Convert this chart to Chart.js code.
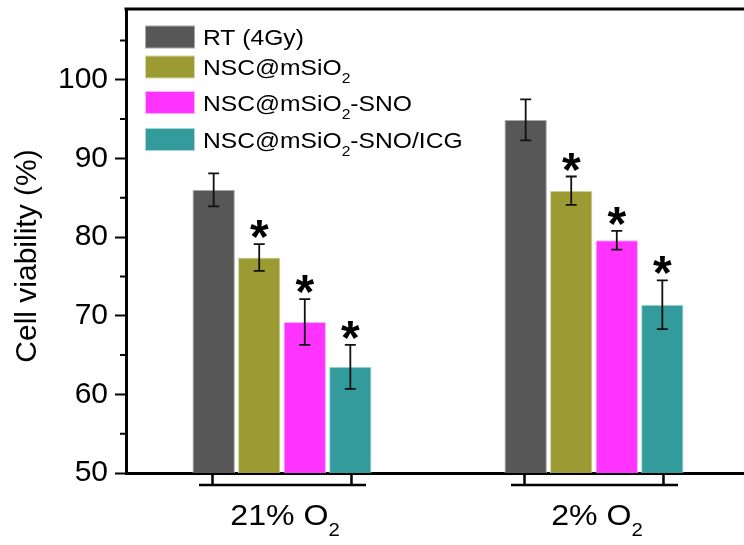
<!DOCTYPE html>
<html>
<head>
<meta charset="utf-8">
<script src="https://cdn.jsdelivr.net/npm/chart.js@4"></script>
<style>
  html, body { margin: 0; padding: 0; background: #fff; overflow: hidden; }
  #wrap { width: 744px; height: 545px; overflow: hidden; }
</style>
</head>
<body>
<div id="wrap"><canvas id="chart" width="752" height="545"></canvas></div>
<script>
// data
const categories = ['21% O₂', '2% O₂'];
const seriesLabels = ['RT (4Gy)', 'NSC@mSiO₂', 'NSC@mSiO₂-SNO', 'NSC@mSiO₂-SNO/ICG'];
const rtValues = [86.0, 94.9];
const rtErrors = [2.1, 2.6];
const nscValues = [77.4, 85.9];
const nscErrors = [1.7, 1.8];
const snoValues = [69.2, 79.6];
const snoErrors = [2.9, 1.2];
const icgValues = [63.5, 71.4];
const icgErrors = [2.8, 3.1];
// asterisk = significant vs RT
const rtStars = [false, false];
const nscStars = [true, true];
const snoStars = [true, true];
const icgStars = [true, true];
const yTicks = [50, 60, 70, 80, 90, 100];

const FONT = "'Liberation Sans', Arial, sans-serif";

// draws text where '₂' becomes a small lowered 2, with a slight horizontal stretch
function drawRich(ctx, text, x, y, size, align, stretch) {
    const parts = [];
    for (const ch of text) {
        const sub = ch === '₂';
        const c = sub ? '2' : ch;
        if (parts.length && parts[parts.length - 1].sub === sub) parts[parts.length - 1].t += c;
        else parts.push({ t: c, sub: sub });
    }
    const subSize = Math.round(size * 0.63);
    let w = 0;
    parts.forEach(p => {
        ctx.font = (p.sub ? subSize : size) + 'px ' + FONT;
        p.w = ctx.measureText(p.t).width;
        w += p.w;
    });
    ctx.save();
    ctx.translate(x, y);
    ctx.scale(stretch, 1);
    ctx.textAlign = 'left';
    ctx.textBaseline = 'alphabetic';
    ctx.fillStyle = '#000';
    let cx = align === 'center' ? -w / 2 : 0;
    parts.forEach(p => {
        ctx.font = (p.sub ? subSize : size) + 'px ' + FONT;
        ctx.fillText(p.t, cx, p.sub ? size * 0.37 : 0);
        cx += p.w;
    });
    ctx.restore();
}

const extras = {
    id: 'extras',
    afterDatasetsDraw(chart) {
        const ctx = chart.ctx;
        const area = chart.chartArea;
        const x = chart.scales.x;
        const y = chart.scales.y;

        // error bars and asterisks
        chart.data.datasets.forEach((ds, di) => {
            const meta = chart.getDatasetMeta(di);
            meta.data.forEach((bar, i) => {
                const v = ds.data[i];
                const e = ds.errors[i];
                const yt = y.getPixelForValue(v + e);
                const yb = y.getPixelForValue(v - e);
                ctx.save();
                ctx.strokeStyle = '#111';
                ctx.lineWidth = 1.8;
                ctx.beginPath();
                ctx.moveTo(bar.x, yt); ctx.lineTo(bar.x, yb);
                ctx.moveTo(bar.x - 5.5, yt); ctx.lineTo(bar.x + 5.5, yt);
                ctx.moveTo(bar.x - 5.5, yb); ctx.lineTo(bar.x + 5.5, yb);
                ctx.stroke();
                if (ds.stars[i]) {
                    ctx.fillStyle = '#000';
                    ctx.font = 'bold 48px ' + FONT;
                    ctx.textAlign = 'center';
                    ctx.textBaseline = 'alphabetic';
                    ctx.fillText('*', bar.x, yt + 9);
                }
                ctx.restore();
            });
        });

        ctx.save();
        ctx.strokeStyle = '#000';
        // top frame
        ctx.lineWidth = 3;
        ctx.beginPath();
        ctx.moveTo(area.left - 1.5, area.top);
        ctx.lineTo(area.right, area.top);
        ctx.stroke();
        // minor y ticks
        ctx.lineWidth = 2;
        ctx.beginPath();
        for (let v = yTicks[0] + 5; v < y.max; v += 10) {
            const py = y.getPixelForValue(v);
            ctx.moveTo(area.left - 6, py);
            ctx.lineTo(area.left, py);
        }
        ctx.stroke();
        // group brackets under the x axis
        ctx.lineWidth = 2.5;
        ctx.beginPath();
        categories.forEach((c, i) => {
            const cx = x.getPixelForValue(i);
            const by = area.bottom + 12;
            ctx.moveTo(cx - 83, by); ctx.lineTo(cx + 84, by);
            ctx.moveTo(cx - 69.5, area.bottom); ctx.lineTo(cx - 69.5, by);
            ctx.moveTo(cx + 69.5, area.bottom); ctx.lineTo(cx + 69.5, by);
        });
        ctx.stroke();
        ctx.restore();

        // category labels
        categories.forEach((c, i) => {
            drawRich(ctx, c, x.getPixelForValue(i) + 3, 525, 30, 'center', 1.07);
        });

        // y title
        ctx.save();
        ctx.translate(28, 256);
        ctx.rotate(-Math.PI / 2);
        ctx.font = '30px ' + FONT;
        ctx.fillStyle = '#000';
        ctx.textAlign = 'center';
        ctx.textBaseline = 'middle';
        ctx.fillText('Cell viability (%)', 0, 0);
        ctx.restore();

        // legend
        const rowY = [37, 67, 102.5, 139.5];
        chart.data.datasets.forEach((ds, di) => {
            const cy = rowY[di];
            ctx.save();
            ctx.fillStyle = ds.borderColor;
            ctx.fillRect(145, cy - 11.5, 50, 23);
            ctx.fillStyle = ds.backgroundColor;
            ctx.fillRect(146, cy - 10.5, 48, 21);
            ctx.restore();
            drawRich(ctx, ds.label, 203, cy + 8, 22, 'left', 1.12);
        });
    }
};

const colors = ['#575757', '#9b9a33', '#ff33ff', '#339b9b'];
const edges = ['#a8a8a8', '#d6d6a6', '#ffb0ff', '#a6d6d6'];
const values = [rtValues, nscValues, snoValues, icgValues];
const errors = [rtErrors, nscErrors, snoErrors, icgErrors];
const stars = [rtStars, nscStars, snoStars, icgStars];

new Chart(document.getElementById('chart'), {
    type: 'bar',
    data: {
        labels: categories,
        datasets: seriesLabels.map((label, i) => ({
            label: label,
            data: values[i],
            errors: errors[i],
            stars: stars[i],
            backgroundColor: colors[i],
            borderColor: edges[i],
            borderWidth: 1,
            barPercentage: 0.93,
            categoryPercentage: 0.584
        }))
    },
    options: {
        responsive: false,
        animation: false,
        devicePixelRatio: 1,
        layout: { padding: { left: 0, top: 9, right: 2, bottom: 0 } },
        plugins: {
            legend: { display: false },
            tooltip: { enabled: false }
        },
        scales: {
            x: {
                grid: { display: false },
                border: { display: true, color: '#000', width: 3 },
                ticks: { display: false },
                afterFit: (scale) => {
                    scale.height = 72;
                    scale.paddingLeft = 0;
                    scale.paddingRight = 0;
                }
            },
            y: {
                min: yTicks[0],
                max: 109,
                ticks: {
                    stepSize: 10,
                    color: '#000',
                    padding: 7,
                    font: { family: FONT, size: 30 }
                },
                afterBuildTicks: (scale) => {
                    scale.ticks = scale.ticks.filter(t => yTicks.includes(t.value));
                },
                grid: {
                    drawOnChartArea: false,
                    tickLength: 11,
                    tickWidth: 2,
                    tickColor: '#000'
                },
                border: { display: true, color: '#000', width: 3 },
                afterFit: (scale) => {
                    scale.width = 126;
                    scale.paddingTop = 0;
                    scale.paddingBottom = 0;
                }
            }
        }
    },
    plugins: [extras]
});
</script>
</body>
</html>
